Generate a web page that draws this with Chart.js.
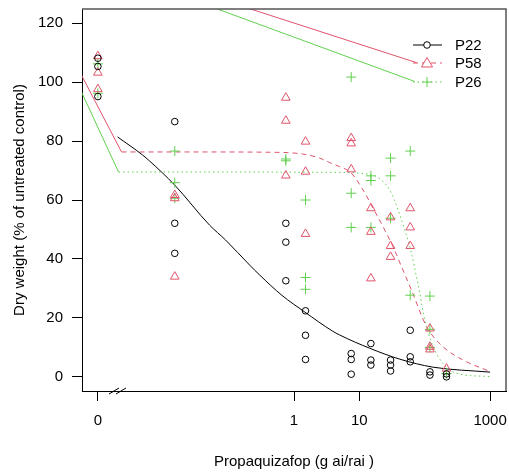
<!DOCTYPE html>
<html>
<head>
<meta charset="utf-8">
<script src="https://cdn.jsdelivr.net/npm/chart.js@4.4.1/dist/chart.umd.min.js"></script>
<style>
  html, body { margin: 0; padding: 0; background: #fff; }
</style>
</head>
<body>
<canvas id="chart" width="509" height="474"></canvas>
<script>
// dose 0 is drawn at this spot on the log axis (broken axis, like drc)
const ZERO_POS = 0.001;

// x ticks
const xTickValues = [0, 1, 10, 1000];
const xTickLabels = ['0', '1', '10', '1000'];
const yTickValues = [0, 20, 40, 60, 80, 100, 120];

// observed points
const p22Dose = [0, 0, 0, 0.015, 0.015, 0.015, 0.75, 0.75, 0.75, 1.5, 1.5, 1.5,
  7.5, 7.5, 7.5, 15, 15, 15, 30, 30, 30, 60, 60, 60, 120, 120, 215, 215];
const p22Dw = [108.1, 105.3, 95.1, 86.6, 52.1, 41.9, 52.1, 45.7, 32.6, 22.4, 14.1, 5.9,
  7.9, 5.9, 0.9, 11.3, 5.7, 4.0, 5.7, 4.0, 2.0, 15.8, 6.8, 5.1, 1.7, 0.6, 1.0, 0.0];

const p58Dose = [0, 0, 0, 0.015, 0.015, 0.015, 0.75, 0.75, 0.75, 1.5, 1.5, 1.5,
  7.5, 7.5, 7.5, 15, 15, 15, 30, 30, 30, 60, 60, 60, 120, 120, 120, 215];
const p58Dw = [108.8, 103.2, 97.6, 61.7, 60.6, 34.0, 94.7, 86.9, 68.3, 79.8, 69.6, 48.5,
  81.0, 79.2, 70.4, 57.2, 49.2, 33.4, 54.1, 44.4, 40.7, 57.2, 50.7, 44.4, 16.4, 10.2, 9.3, 2.8];

const p26Dose = [0, 0, 0.015, 0.015, 0.015, 0.75, 0.75, 1.5, 1.5, 1.5,
  7.5, 7.5, 7.5, 15, 15, 15, 30, 30, 30, 60, 60, 120, 120, 120, 215];
const p26Dw = [106.2, 96.2, 76.6, 65.9, 60.6, 73.9, 73.3, 60.0, 33.7, 29.7,
  101.7, 62.3, 50.7, 68.2, 66.6, 50.7, 74.2, 68.2, 53.8, 76.6, 27.7, 27.4, 16.1, 10.0, 1.1];

// fitted curves
const p22CurveDose = [0.002, 0.0048, 0.0062, 0.0149, 0.051, 0.09, 0.21, 0.30, 0.65, 1.46, 3.9, 5.0, 14.4, 41.6, 133, 1000];
const p22CurveDw = [81.4, 75.3, 73.2, 65.1, 51.5, 46.4, 37.9, 34.5, 27.7, 22.0, 15.5, 14.2, 9.7, 6.0, 3.3, 1.6];

const p58CurveDose = [0.0023, 0.036, 0.425, 1.36, 2.48, 3.52, 5.01, 7.38, 11.4, 16.2, 23.1, 32.8, 44.1, 62.8, 107, 191, 387, 1000];
const p58CurveDw = [76.3, 76.3, 76.2, 75.6, 74.2, 72.7, 71.3, 69.3, 63.4, 57.2, 50.9, 44.1, 37.4, 29.4, 17.0, 10.2, 5.7, 1.8];

const p26CurveDose = [0.00207, 0.036, 3.52, 14.4, 20.5, 29.2, 39.2, 49.6, 62.8, 76.5, 84.1, 100, 135, 191, 307, 1000];
const p26CurveDw = [69.5, 69.5, 69.4, 68.7, 67.2, 63.4, 56.6, 49.8, 41.9, 32.8, 28.3, 19.3, 10.2, 4.5, 1.2, 0.1];

// straight solid pieces near the break and towards the legend
const p58LeftDose = [0.00056, 0.0023];
const p58LeftDw = [102.4, 76.3];
const p26LeftDose = [0.00056, 0.00207];
const p26LeftDw = [96.7, 69.5];
const p58UpperDose = [0.21, 74.9];
const p58UpperDw = [124.9, 106.6];
const p26UpperDose = [0.0655, 70.5];
const p26UpperDw = [124.9, 100.2];

const BLACK = '#000000';
const RED = '#DF536B';
const GREEN = '#61D04F';
const FONT = '"Liberation Sans", Arimo, Arial, sans-serif';

const xOf = d => (d === 0 ? ZERO_POS : d);
function pts(xs, ys) {
  return xs.map((x, i) => ({ x: xOf(x), y: ys[i] }));
}

function curve(xs, ys, color, dash, smooth) {
  return {
    type: 'line',
    data: pts(xs, ys),
    borderColor: color,
    borderWidth: 1,
    borderDash: dash,
    pointRadius: 0,
    fill: false,
    cubicInterpolationMode: smooth ? 'monotone' : 'default',
    clip: 0
  };
}

function points(xs, ys, color, style, r) {
  return {
    type: 'scatter',
    data: pts(xs, ys),
    borderColor: color,
    backgroundColor: 'rgba(0,0,0,0)',
    borderWidth: 1,
    pointStyle: style,
    pointRadius: r,
    clip: 4
  };
}

// no extra room for overhanging tick labels
function noPad(s) {
  s.paddingLeft = 0;
  s.paddingRight = 0;
  s.paddingTop = 0;
  s.paddingBottom = 0;
}

// box, axis break and legend
const extras = {
  id: 'extras',
  afterDraw(chart) {
    const { ctx, chartArea: a } = chart;
    ctx.save();
    ctx.strokeStyle = '#555';
    ctx.lineWidth = 1.5;
    ctx.beginPath();
    ctx.moveTo(a.left, a.top);
    ctx.lineTo(a.right, a.top);
    ctx.lineTo(a.right, a.bottom);
    ctx.stroke();

    // "//" on the x axis
    ctx.strokeStyle = BLACK;
    ctx.lineWidth = 1;
    ctx.beginPath();
    ctx.moveTo(109, a.bottom + 3); ctx.lineTo(119, a.bottom - 3);
    ctx.moveTo(116, a.bottom + 3); ctx.lineTo(126, a.bottom - 3);
    ctx.stroke();

    // legend
    const items = [
      { label: 'P22', color: BLACK, dash: [], style: 'circle', y: 45 },
      { label: 'P58', color: RED, dash: [5, 4], style: 'triangle', y: 63 },
      { label: 'P26', color: GREEN, dash: [1.5, 3], style: 'cross', y: 82 }
    ];
    items.forEach(it => {
      ctx.strokeStyle = it.color;
      ctx.lineWidth = 1;
      ctx.setLineDash(it.dash);
      ctx.beginPath();
      ctx.moveTo(413, it.y);
      ctx.lineTo(442, it.y);
      ctx.stroke();
      ctx.setLineDash([]);
      ctx.beginPath();
      if (it.style === 'circle') {
        ctx.fillStyle = '#fff';
        ctx.arc(427, it.y, 3.3, 0, Math.PI * 2);
        ctx.fill();
        ctx.stroke();
      } else if (it.style === 'triangle') {
        ctx.fillStyle = '#fff';
        ctx.moveTo(427, it.y - 5.5);
        ctx.lineTo(432.5, it.y + 4);
        ctx.lineTo(421.5, it.y + 4);
        ctx.closePath();
        ctx.fill();
        ctx.stroke();
      } else {
        ctx.moveTo(422, it.y); ctx.lineTo(432, it.y);
        ctx.moveTo(427, it.y - 5); ctx.lineTo(427, it.y + 5);
        ctx.stroke();
      }
      ctx.fillStyle = '#000';
      ctx.font = '15px ' + FONT;
      ctx.textBaseline = 'middle';
      ctx.textAlign = 'left';
      ctx.fillText(it.label, 455, it.y + 1);
    });
    ctx.restore();
  }
};

new Chart(document.getElementById('chart'), {
  type: 'scatter',
  data: {
    datasets: [
      curve(p58LeftDose, p58LeftDw, RED, [], false),
      curve(p26LeftDose, p26LeftDw, GREEN, [], false),
      curve(p58UpperDose, p58UpperDw, RED, [], false),
      curve(p26UpperDose, p26UpperDw, GREEN, [], false),
      points(p22Dose, p22Dw, BLACK, 'circle', 3.3),
      points(p58Dose, p58Dw, RED, 'triangle', 5),
      points(p26Dose, p26Dw, GREEN, 'cross', 5),
      curve(p22CurveDose, p22CurveDw, BLACK, [], true),
      curve(p58CurveDose, p58CurveDw, RED, [5, 4], true),
      curve(p26CurveDose, p26CurveDw, GREEN, [1.5, 3], true)
    ]
  },
  options: {
    responsive: false,
    animation: false,
    devicePixelRatio: 1,
    layout: { autoPadding: false, padding: { top: 9, right: 3, left: 0, bottom: 0 } },
    plugins: { legend: { display: false }, tooltip: { enabled: false } },
    scales: {
      x: {
        type: 'logarithmic',
        min: Math.pow(10, -3.243),
        max: Math.pow(10, 3.243),
        afterBuildTicks: s => { s.ticks = xTickValues.map(v => ({ value: xOf(v) })); },
        afterFit: s => { s.height = 83; noPad(s); },
        ticks: {
          autoSkip: false,
          maxRotation: 0,
          color: '#000',
          padding: 11,
          font: { family: FONT, size: 15 },
          callback: (v, i) => xTickLabels[i]
        },
        grid: { display: true, drawOnChartArea: false, drawTicks: true, tickLength: 10, color: '#000' },
        border: { display: true, color: '#000', width: 1 },
        title: {
          display: true,
          text: 'Propaquizafop (g ai/rai )',
          color: '#000',
          font: { family: FONT, size: 15 },
          padding: { top: 0, bottom: 3 }
        }
      },
      y: {
        type: 'linear',
        min: -4.8,
        max: 124.8,
        afterBuildTicks: s => { s.ticks = yTickValues.map(v => ({ value: v })); },
        afterFit: s => { s.width = 82; noPad(s); },
        ticks: {
          color: '#000',
          padding: 9,
          font: { family: FONT, size: 15 }
        },
        grid: { display: true, drawOnChartArea: false, drawTicks: true, tickLength: 10, color: '#000' },
        border: { display: true, color: '#000', width: 1 },
        title: {
          display: true,
          text: 'Dry weight (% of untreated control)',
          color: '#000',
          font: { family: FONT, size: 15 },
          padding: { top: 11, bottom: 0 }
        }
      }
    }
  },
  plugins: [extras]
});
</script>
</body>
</html>
